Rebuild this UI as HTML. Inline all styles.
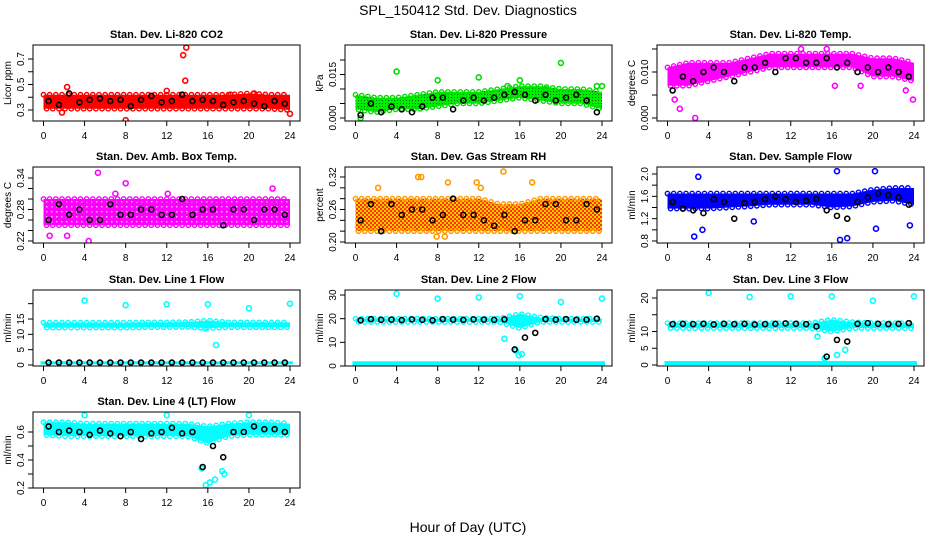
<!DOCTYPE html>
<html><head><meta charset="utf-8"><style>
html,body{margin:0;padding:0;background:#fff;}
svg{display:block;font-family:"Liberation Sans",Arial,sans-serif;}
</style></head><body>
<svg id="chart" width="936" height="540" viewBox="0 0 936 540">
<defs>
<pattern id="patRH" width="4" height="4" patternUnits="userSpaceOnUse"><rect width="4" height="4" fill="#ffcc00"/><rect x="0" y="0" width="2" height="2" fill="#ff3300"/><rect x="2" y="2" width="2" height="2" fill="#ff3300"/></pattern>
<pattern id="patAmb" width="5" height="5" patternUnits="userSpaceOnUse"><rect width="5" height="5" fill="#ff00ff"/><rect x="1" y="1" width="1.5" height="1.5" fill="#ffb0ff"/></pattern>
<pattern id="patGreen" width="3" height="3" patternUnits="userSpaceOnUse"><rect width="3" height="3" fill="#00ee00"/><rect x="1" y="1" width="1" height="1" fill="#006600"/></pattern>
</defs>
<rect width="936" height="540" fill="#fff"/>
<text x="468" y="15" text-anchor="middle" font-size="14">SPL_150412  Std. Dev. Diagnostics</text>
<text x="468" y="532" text-anchor="middle" font-size="14">Hour of Day (UTC)</text>
<g id="panels"></g>
</svg>
<script>
// ---- data ----
const xTicks = [0,4,8,12,16,20,24];
const bandHours = [0,2,4,6,8,10,12,14,16,18,20,22,24];
const blackHours = [0.5,1.5,2.5,3.5,4.5,5.5,6.5,7.5,8.5,9.5,10.5,11.5,12.5,13.5,14.5,15.5,16.5,17.5,18.5,19.5,20.5,21.5,22.5,23.5];

const titles = ["Stan. Dev. Li-820 CO2","Stan. Dev. Li-820 Pressure","Stan. Dev. Li-820 Temp.","Stan. Dev. Amb. Box Temp.","Stan. Dev. Gas Stream RH","Stan. Dev. Sample Flow","Stan. Dev. Line 1 Flow","Stan. Dev. Line 2 Flow","Stan. Dev. Line 3 Flow","Stan. Dev. Line 4 (LT) Flow"];
const yLabels = ["Licor ppm","kPa","degrees C","degrees C","percent","ml/min","ml/min","ml/min","ml/min","ml/min"];
const colors = ["#ff0000","#00dd00","#ff00ff","#ff00ff","#ff9900","#0000ff","#00ffff","#00ffff","#00ffff","#00ffff"];
const fills = ["#ff0000","url(#patGreen)","#ff00ff","url(#patAmb)","url(#patRH)","#0000ff","#00ffff","#00ffff","#00ffff","#00ffff"];
const yTickVals = [[0.3,0.4,0.5,0.6,0.7],[0,0.005,0.01,0.015,0.02],[0,0.005,0.01,0.015],[0.22,0.24,0.26,0.28,0.30,0.32,0.34],[0.20,0.22,0.24,0.26,0.28,0.30,0.32],[0.8,1.0,1.2,1.4,1.6,1.8,2.0],[0,5,10,15,20],[0,10,20,30],[0,5,10,15,20],[0.2,0.3,0.4,0.5,0.6]];
const yTickLabels = [["0.3","","0.5","","0.7"],["0.000","","","0.015",""],["0.000","","0.010",""],["0.22","","","0.28","","","0.34"],["0.20","","","0.26","","","0.32"],["0.8","","1.2","","1.6","","2.0"],["0","5","10","15",""],["0","10","20","30"],["0","5","10","","20"],["0.2","","0.4","","0.6"]];

const bandLow = [
 [0.31,0.31,0.31,0.31,0.31,0.31,0.31,0.31,0.31,0.31,0.31,0.31,0.30],
 [0.003,0.002,0.003,0.003,0.004,0.005,0.005,0.006,0.007,0.006,0.005,0.005,0.003],
 [0.007,0.007,0.008,0.009,0.010,0.011,0.011,0.011,0.011,0.011,0.009,0.009,0.008],
 [0.25,0.25,0.25,0.25,0.25,0.25,0.25,0.25,0.25,0.25,0.25,0.25,0.25],
 [0.22,0.22,0.22,0.22,0.22,0.22,0.22,0.22,0.22,0.22,0.22,0.22,0.22],
 [1.38,1.38,1.38,1.40,1.42,1.45,1.45,1.45,1.40,1.42,1.50,1.52,1.45],
 [12.2,12.2,12.2,12.2,12.2,12.3,12.3,12.4,12.0,12.3,12.3,12.3,12.3],
 [18.6,18.6,18.6,18.6,18.6,18.6,18.6,18.6,16.0,18.6,18.6,18.6,18.6],
 [11.0,11.0,11.0,11.0,11.0,11.0,11.0,11.0,10.0,11.0,11.0,11.0,11.0],
 [0.58,0.57,0.57,0.57,0.57,0.57,0.57,0.57,0.52,0.57,0.58,0.58,0.58]
];
const bandHigh = [
 [0.42,0.42,0.42,0.42,0.42,0.42,0.42,0.42,0.42,0.42,0.43,0.42,0.42],
 [0.008,0.007,0.007,0.008,0.009,0.009,0.009,0.010,0.011,0.011,0.010,0.010,0.009],
 [0.011,0.012,0.012,0.012,0.013,0.014,0.014,0.014,0.014,0.014,0.013,0.013,0.012],
 [0.30,0.30,0.30,0.30,0.30,0.30,0.30,0.30,0.30,0.30,0.30,0.30,0.30],
 [0.28,0.28,0.28,0.28,0.28,0.28,0.28,0.27,0.27,0.28,0.28,0.28,0.28],
 [1.65,1.65,1.65,1.65,1.65,1.65,1.65,1.65,1.65,1.65,1.72,1.75,1.75],
 [13.8,13.8,13.8,13.8,13.8,13.9,13.9,14.0,14.5,13.9,13.9,13.9,13.9],
 [20.0,20.0,20.0,20.0,20.0,20.0,20.0,20.0,22.0,20.5,20.0,20.0,20.0],
 [12.5,12.5,12.5,12.5,12.5,12.5,12.5,12.5,13.5,12.8,12.5,12.5,12.5],
 [0.67,0.67,0.66,0.66,0.66,0.66,0.66,0.66,0.64,0.66,0.67,0.67,0.66]
];
const baseLow = [null,null,null,null,null,null,0.2,0.0,0.0,null];
const baseHigh = [null,null,null,null,null,null,1.2,2.0,1.2,null];

const blackVals = [
 [0.37,0.34,0.43,0.36,0.38,0.39,0.37,0.38,0.33,0.38,0.41,0.36,0.37,0.42,0.37,0.38,0.37,0.34,0.36,0.37,0.35,0.33,0.37,0.35],
 [0.001,0.005,0.002,0.004,0.003,0.002,0.004,0.007,0.007,0.003,0.006,0.007,0.006,0.007,0.008,0.009,0.008,0.006,0.008,0.006,0.007,0.008,0.006,0.002],
 [0.006,0.009,0.008,0.010,0.011,0.010,0.008,0.011,0.011,0.012,0.010,0.013,0.013,0.012,0.012,0.013,0.011,0.012,0.010,0.011,0.010,0.011,0.010,0.009],
 [0.26,0.29,0.27,0.28,0.26,0.26,0.29,0.27,0.27,0.28,0.28,0.27,0.27,0.30,0.27,0.28,0.28,0.25,0.28,0.28,0.26,0.28,0.28,0.27],
 [0.24,0.27,0.22,0.27,0.25,0.26,0.26,0.24,0.25,0.28,0.25,0.25,0.24,0.23,0.25,0.22,0.24,0.24,0.27,0.27,0.24,0.24,0.27,0.26],
 [1.50,1.38,1.35,1.30,1.55,1.50,1.20,1.48,1.50,1.55,1.60,1.55,1.50,1.52,1.55,1.35,1.25,1.20,1.50,1.58,1.65,1.62,1.58,1.45],
 [0.8,0.8,0.8,0.8,0.8,0.8,0.8,0.8,0.8,0.8,0.8,0.8,0.8,0.8,0.8,0.8,0.8,0.8,0.8,0.8,0.8,0.8,0.8,0.8],
 [19.3,19.8,19.5,19.6,19.4,19.7,19.5,19.3,19.8,19.6,19.5,19.7,19.6,19.5,19.7,7.0,12.0,14.0,19.8,19.6,19.8,19.5,19.6,20.0],
 [12.2,12.3,12.2,12.3,12.1,12.3,12.2,12.3,12.1,12.2,12.3,12.4,12.3,12.2,11.5,2.5,7.5,7.0,12.3,12.5,12.3,12.2,12.3,12.5],
 [0.64,0.60,0.61,0.60,0.58,0.61,0.59,0.57,0.60,0.55,0.59,0.60,0.63,0.59,0.60,0.35,0.50,0.42,0.60,0.60,0.64,0.62,0.62,0.60]
];
const outX = [
 [13.6,13.9,13.8,8.0,2.3,18.2,24.0,1.8,12.0,20.5],
 [4.0,8.0,12.0,16.0,20.0,24.0,0.5,14.8,18.5,23.5],
 [2.7,1.2,0.7,15.5,13.0,16.3,18.8,23.2,23.9],
 [5.3,8.0,22.3,0.6,2.3,4.4,16.5,7.0,12.1],
 [2.2,6.4,6.1,8.7,14.4,17.2,12.2,7.9,11.8,9.0],
 [3.0,2.6,3.4,16.5,20.2,16.8,17.5,20.3,23.6,8.4],
 [4.0,8.0,12.0,16.0,20.0,24.0,16.8,15.7],
 [4.0,8.0,12.0,16.0,20.0,24.0,15.6,15.9,16.2,14.5],
 [4.0,8.0,12.0,16.0,20.0,24.0,14.6,15.3,16.5,17.3],
 [4.0,12.0,20.0,15.8,16.2,16.7,17.4,15.4,17.6]
];
const outY = [
 [0.73,0.79,0.53,0.22,0.48,0.42,0.27,0.28,0.45,0.43],
 [0.016,0.013,0.014,0.013,0.019,0.011,0.000,0.011,0.010,0.011],
 [0.000,0.002,0.004,0.015,0.015,0.007,0.007,0.006,0.004],
 [0.35,0.33,0.32,0.23,0.23,0.22,0.21,0.31,0.31],
 [0.30,0.32,0.32,0.21,0.33,0.31,0.30,0.21,0.31,0.31],
 [1.95,0.88,1.00,2.05,2.05,0.82,0.85,1.02,1.08,1.15],
 [21,19.5,19.8,19.8,18.5,20.0,6.5,12.0],
 [30.5,28.5,29.0,29.5,27.0,28.5,6.5,4.5,5.0,11.5],
 [21.5,20.3,20.5,20.5,19.2,20.5,8.5,2.0,3.0,4.5],
 [0.72,0.72,0.72,0.22,0.24,0.26,0.32,0.34,0.30]
];
const calV = [[0.3,0.7],[0,0.015],[0,0.010],[0.22,0.34],[0.20,0.32],[0.8,2.0],[0,15],[0,30],[0,20],[0.2,0.6]];
const calP = [[110,59],[118,74.5],[118,72],[241,178],[242,177],[241,174],[365,319],[366,295],[365,298],[488,432]];

const colLeft = [33,345,657], rowTop = [45,167,290,412], PW = 267, PH = 76;
const NS = "http://www.w3.org/2000/svg";
const root = document.getElementById('panels');
function mk(tag, attrs, parent){ const e=document.createElementNS(NS,tag); for(const k in attrs) e.setAttribute(k,attrs[k]); (parent||root).appendChild(e); return e; }
function interp(arr,h){ let i=Math.min(Math.floor(h/2),11); const t=(h-bandHours[i])/2; return arr[i]+(arr[i+1]-arr[i])*t; }

for(let p=0;p<10;p++){
  const L=colLeft[p%3], T=rowTop[Math.floor(p/3)], R=L+PW, B=T+PH;
  const g=mk('g',{});
  
  
  const xS=h=>L+10.5+h*(PW-20.5)/24;
  const yS=v=>calP[p][0]+(v-calV[p][0])*(calP[p][1]-calP[p][0])/(calV[p][1]-calV[p][0]);
  const clipId='clip'+p;
  const cp=mk('clipPath',{id:clipId},g); mk('rect',{x:L,y:T,width:PW,height:PH},cp);
  const plot=mk('g',{'clip-path':'url(#'+clipId+')'},g);
  const col=colors[p];
  let pts=[];
  bandHours.forEach((h,i)=>pts.push(xS(h)+','+yS(bandHigh[p][i])));
  for(let i=bandHours.length-1;i>=0;i--) pts.push(xS(bandHours[i])+','+yS(bandLow[p][i]));
  const band=mk('polygon',{points:pts.join(' '),fill:fills[p],stroke:'none'},plot);
  
  
  for(let h=0;h<=24;h+=0.6){
    mk('circle',{cx:xS(h),cy:yS(interp(bandHigh[p],h)),r:2.2,fill:'none',stroke:col,'stroke-width':1.4},plot);
    mk('circle',{cx:xS(h+0.3),cy:yS(interp(bandLow[p],Math.min(24,h+0.3))),r:2.2,fill:'none',stroke:col,'stroke-width':1.4},plot);
  }
  if(baseLow[p]!==null){
    const b=mk('rect',{x:xS(0)-3,y:yS(baseHigh[p]),width:xS(24)-xS(0)+6,height:yS(baseLow[p])-yS(baseHigh[p]),fill:col},plot);
    
    
  }
  outX[p].forEach((h,i)=>{
    const c=mk('circle',{cx:xS(h),cy:yS(outY[p][i]),r:2.5,fill:'none',stroke:col,'stroke-width':1.6},plot);
    
    
  });
  blackHours.forEach((h,i)=>{
    const c=mk('circle',{cx:xS(h),cy:yS(blackVals[p][i]),r:2.5,fill:'none',stroke:'#000','stroke-width':1.6},plot);
    
    
  });
  const box=mk('rect',{x:L,y:T,width:PW,height:PH,fill:'none',stroke:'#000','stroke-width':1},g);
  
  
  mk('line',{x1:xS(0),x2:xS(24),y1:B,y2:B,stroke:'#000'},g);
  xTicks.forEach(t=>{
    mk('line',{x1:xS(t),x2:xS(t),y1:B,y2:B+5,stroke:'#000'},g);
    const tx=mk('text',{x:xS(t),y:B+18,'text-anchor':'middle','font-size':10},g); tx.textContent=t;
    
    
  });
  const yt=yTickVals[p];
  mk('line',{x1:L,x2:L,y1:yS(yt[0]),y2:yS(yt[yt.length-1]),stroke:'#000'},g);
  yt.forEach((v,i)=>{
    const y=yS(v); if(y<T-1||y>B+1) return;
    mk('line',{x1:L-5,x2:L,y1:y,y2:y,stroke:'#000'},g);
    const lab=yTickLabels[p][i]; if(!lab) return;
    const tx=mk('text',{x:L-9,y:y,'text-anchor':'middle','font-size':10,transform:'rotate(-90 '+(L-9)+' '+y+')'},g); tx.textContent=lab;
    
    
  });
  const yl=mk('text',{x:L-22,y:T+PH/2,'text-anchor':'middle','font-size':10,transform:'rotate(-90 '+(L-22)+' '+(T+PH/2)+')'},g);
  yl.textContent=yLabels[p];
  
  
  const ti=mk('text',{x:L+PW/2,y:T-7,'text-anchor':'middle','font-size':11,'font-weight':'bold'},g);
  ti.textContent=titles[p];
  
  
}
</script>
</body></html>
